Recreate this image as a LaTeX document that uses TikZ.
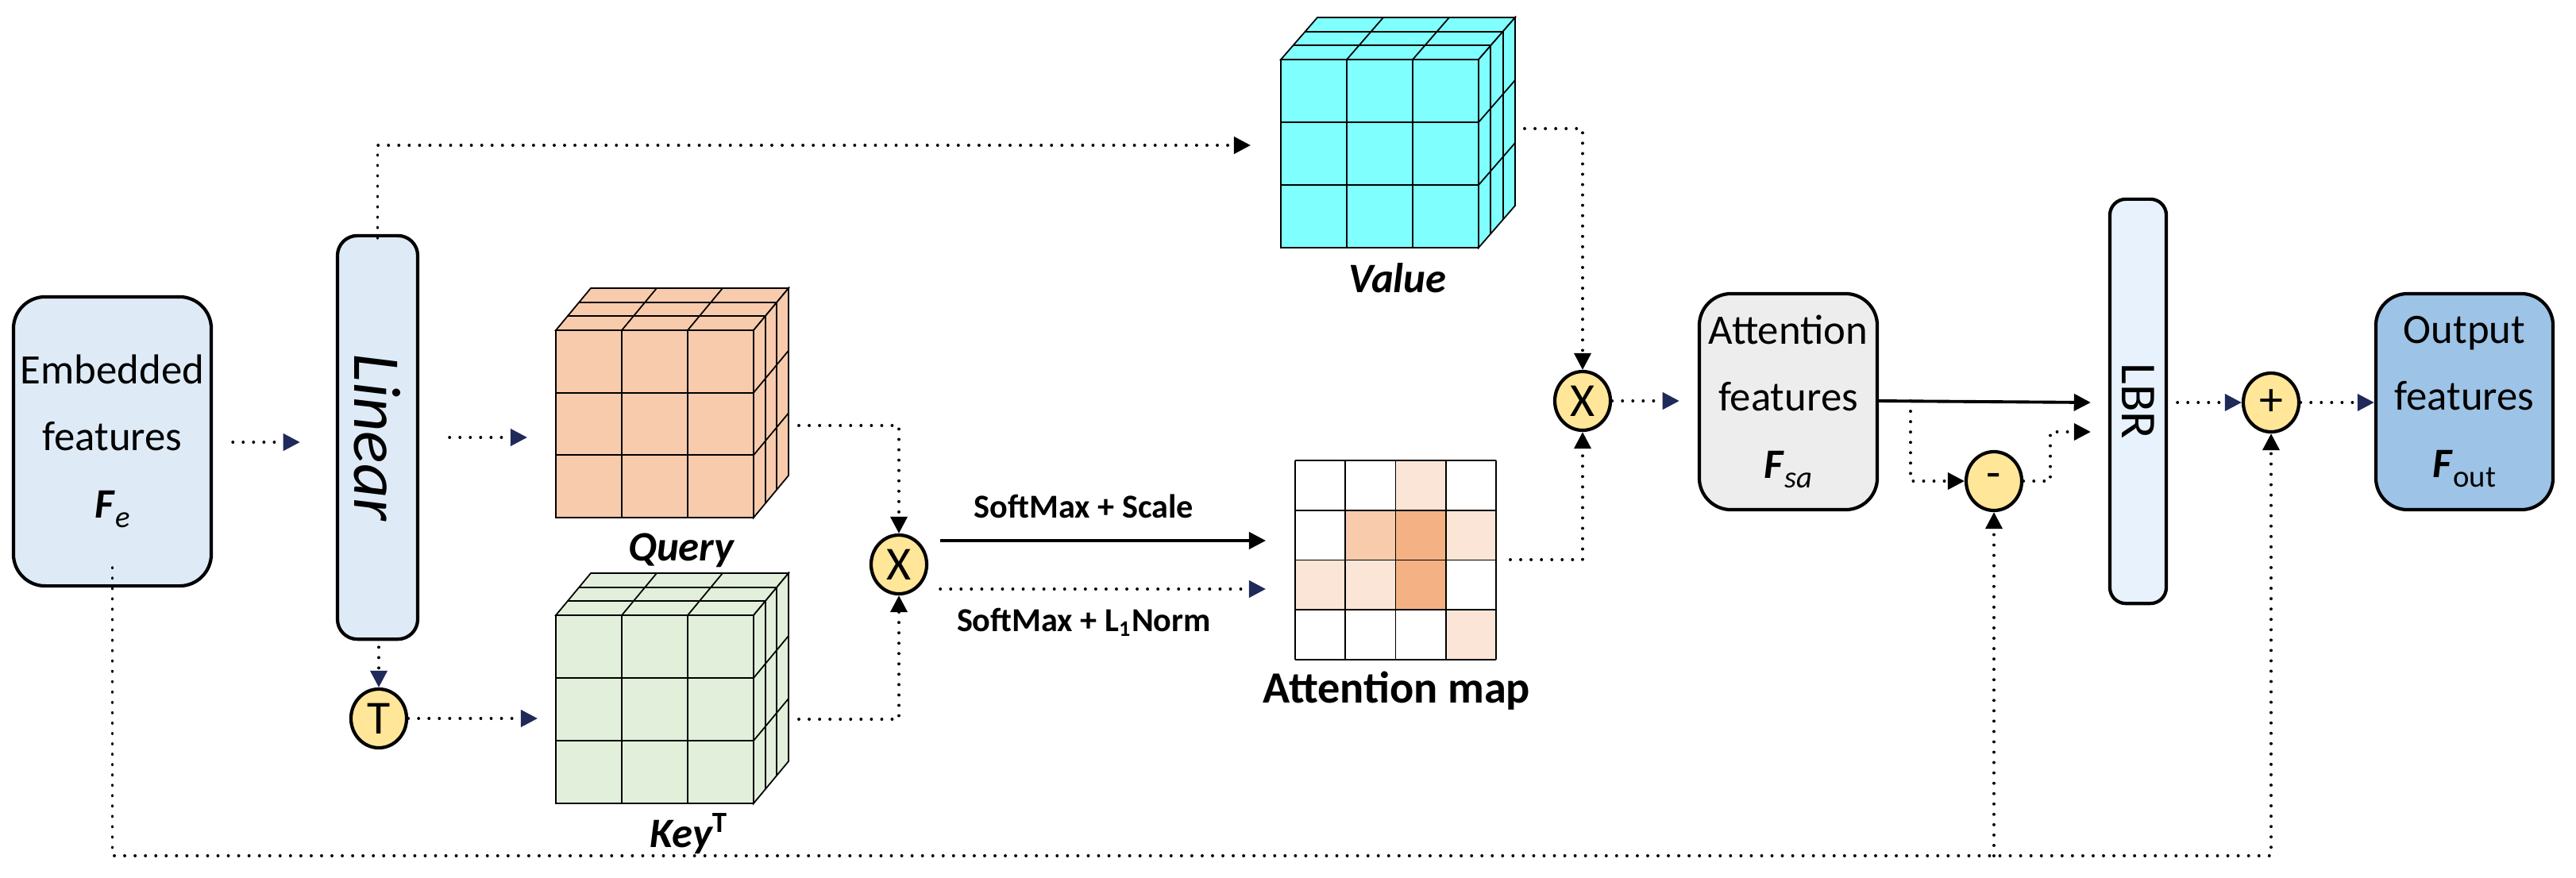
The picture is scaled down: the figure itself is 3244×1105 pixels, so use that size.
\documentclass[tikz,border=0pt]{standalone}
\usepackage{fontspec}
\setmainfont{Carlito}
\usetikzlibrary{arrows.meta,calc,shapes.geometric}
\definecolor{navy}{HTML}{1F2A5A}
\definecolor{boxblue}{HTML}{DEEBF7}
\definecolor{boxgray}{HTML}{EDEDED}
\definecolor{lbrblue}{HTML}{E7F2FD}
\definecolor{outblue}{HTML}{9DC3E6}
\definecolor{opyellow}{HTML}{FFE699}
\definecolor{qcol}{HTML}{F8CBAD}
\definecolor{kcol}{HTML}{E2EFDA}
\definecolor{vcol}{HTML}{80FFFF}
\definecolor{mlight}{HTML}{FBE5D6}
\definecolor{mmid}{HTML}{F8CBAD}
\definecolor{mdark}{HTML}{F4B183}
\newcommand\mycube[7]{%
 \filldraw[fill=#7,draw=black,line width=0.5pt] (#1,#2) rectangle ({#1+#3},{#2+#4});
 \filldraw[fill=#7,draw=black,line width=0.5pt] (#1,#2) -- ({#1+#3},#2) -- ({#1+#3+#5},{#2-#6}) -- ({#1+#5},{#2-#6}) -- cycle;
 \filldraw[fill=#7,draw=black,line width=0.5pt] ({#1+#3},#2) -- ({#1+#3+#5},{#2-#6}) -- ({#1+#3+#5},{#2+#4-#6}) -- ({#1+#3},{#2+#4}) -- cycle;
 \foreach \i in {1,2}{
  \draw[line width=0.5pt] ({#1+\i*#3/3},#2) -- ({#1+\i*#3/3},{#2+#4});
  \draw[line width=0.5pt] (#1,{#2+\i*#4/3}) -- ({#1+#3},{#2+\i*#4/3});
  \draw[line width=0.5pt] ({#1+\i*#3/3},#2) -- ({#1+\i*#3/3+#5},{#2-#6});
  \draw[line width=0.5pt] ({#1+\i*#5/3},{#2-\i*#6/3}) -- ({#1+#3+\i*#5/3},{#2-\i*#6/3});
  \draw[line width=0.5pt] ({#1+#3+\i*#5/3},{#2-\i*#6/3}) -- ({#1+#3+\i*#5/3},{#2+#4-\i*#6/3});
  \draw[line width=0.5pt] ({#1+#3},{#2+\i*#4/3}) -- ({#1+#3+#5},{#2+\i*#4/3-#6});
 }}
\newcommand\subx[1]{\raisebox{-0.5ex}{\fontsize{11}{11}\selectfont #1}}
\begin{document}
\begin{tikzpicture}[x=0.01cm,y=-0.01cm,
  box/.style={draw=black,line width=1.2pt,rounded corners=0.4cm,align=center,inner sep=0pt,font=\fontsize{15}{24}\selectfont},
  op/.style={ellipse,draw=black,line width=1.2pt,fill=opyellow,minimum width=0.7cm,minimum height=0.74cm,inner sep=0pt,font=\fontsize{17}{17}\selectfont},
  dl/.style={line width=1.1pt,dash pattern=on 0.01pt off 3.7pt,line cap=round},
  na/.style={dl,-{Triangle[length=6pt,width=6pt,fill=navy,color=navy]}},
  ba/.style={dl,-{Triangle[length=6pt,width=6pt,fill=black]}},
  sa/.style={line width=1.1pt,-{Triangle[length=6pt,width=6pt]}},
  lab/.style={font=\fontsize{15}{15}\selectfont\bfseries\itshape},
  sm/.style={font=\fontsize{12}{12}\selectfont\bfseries}]
\useasboundingbox (0,0) rectangle (3244,1105);

% boxes
\node[box,fill=boxblue,minimum width=2.49cm,minimum height=3.64cm] (emb) at (141.5,556) {Embedded\\features\\\textbf{\textit{F}}\subx{\textit{e}}};
\node[box,fill=boxblue,minimum width=1.01cm,minimum height=5.08cm,rounded corners=0.25cm] (lin) at (475.5,551) {};
\node[rotate=-90,font=\fontsize{24}{24}\selectfont\itshape] at (lin.center) {Linear};
\node[box,fill=boxgray,minimum width=2.24cm,minimum height=2.72cm] (af) at (2252,506) {Attention\\features\\\textbf{\textit{F}}\subx{\textit{sa}}};
\node[box,fill=lbrblue,minimum width=0.71cm,minimum height=5.09cm,rounded corners=0.2cm] (lbr) at (2692.5,505.5) {};
\node[rotate=-90,font=\fontsize{18}{18}\selectfont] at (lbr.center) {LBR};
\node[box,fill=outblue,minimum width=2.23cm,minimum height=2.72cm] (out) at (3103.5,506) {Output\\features\\\textbf{\textit{F}}\subx{out}};

% operators
\node[op] (t) at (477,905) {T};
\node[op] (x1) at (1132,711) {X};
\node[op] (x2) at (1993,505) {X};
\node[op] (mi) at (2511,606) {-};
\node[op] (pl) at (2860,507) {+};

% cubes
\mycube{700}{416}{249}{236}{44}{53}{qcol}
\mycube{700}{775}{249}{237}{44}{53}{kcol}
\mycube{1613}{75}{249}{237}{46}{53}{vcol}
\node[lab] (ql) at (858,693) {Query};
\node[lab] (kl) at (868,1050) {Key\textsuperscript{\upshape T}};
\node[lab] (vl) at (1760,350) {Value};
\coordinate (qr) at (1006,536);
\coordinate (kr) at (1006,906);
\coordinate (vr) at (1920,162);
\coordinate (vin) at (1575,183);
\coordinate (qin) at (664,551);
\coordinate (kin) at (677,905);

% attention map
\foreach \r/\c/\col in {0/2/mlight,1/1/mmid,1/2/mdark,1/3/mlight,2/0/mlight,2/1/mlight,2/2/mdark,3/3/mlight}
  \fill[\col] ({1631+\c*63.25},{580+\r*62.75}) rectangle ++(63.25,62.75);
\foreach \i in {0,...,4}{
  \draw[line width=0.5pt] ({1631+\i*63.25},580) -- ({1631+\i*63.25},831);
  \draw[line width=0.5pt] (1631,{580+\i*62.75}) -- (1884,{580+\i*62.75});}
\node[font=\fontsize{16}{16}\selectfont\bfseries] (aml) at (1759,870) {Attention map};
\coordinate (amr) at (1902,705);
\coordinate (amin) at (1594,681);
\coordinate (amin2) at (1594,742);

% connectors
\draw[na] ([xshift=0.25cm]emb.east |- 0,557) -- ([xshift=-0.45cm]lin.west |- 0,557);
\draw[na] ([xshift=0.38cm]lin.east |- qin) -- (qin);
\draw[ba] ([yshift=-0.05cm]lin.north) |- (vin);
\draw[na] ([yshift=-0.08cm]lin.south -| t) -- (t.north);
\draw[na] (t.east) -- (kin);
\draw[ba] (qr) -| (x1.north);
\draw[ba] (kr) -| (x1.south);
\draw[sa] ([xshift=0.15cm]x1.east |- amin) -- (amin);
\draw[na] ([xshift=0.15cm]x1.east |- amin2) -- (amin2);
\node[sm] at (1365,638) {SoftMax + Scale};
\node[sm] at (1365,784) {SoftMax + L\textsubscript{1}Norm};
\draw[ba] (vr) -| (x2.north);
\draw[ba] (amr) -| (x2.south);
\draw[na] (x2.east) -- ([xshift=-0.23cm]af.west |- x2);
\draw[sa] (af.east |- 0,505) -- ([xshift=-0.22cm]lbr.west |- 0,507);
\draw[ba] (2406,505) |- (mi.west);
\draw[ba] (mi.east) -| (2582,544) -- ([xshift=-0.22cm]lbr.west |- 0,544);
\draw[na] ([xshift=0.12cm]lbr.east |- pl) -- (pl.west);
\draw[na] (pl.east) -- (out.west |- pl);
\draw[ba] ([yshift=0.25cm]emb.south) |- (pl.south |- 0,1078) -- (pl.south);
\draw[ba] (mi.south |- 0,1078) -- (mi.south);
\end{tikzpicture}
\end{document}
